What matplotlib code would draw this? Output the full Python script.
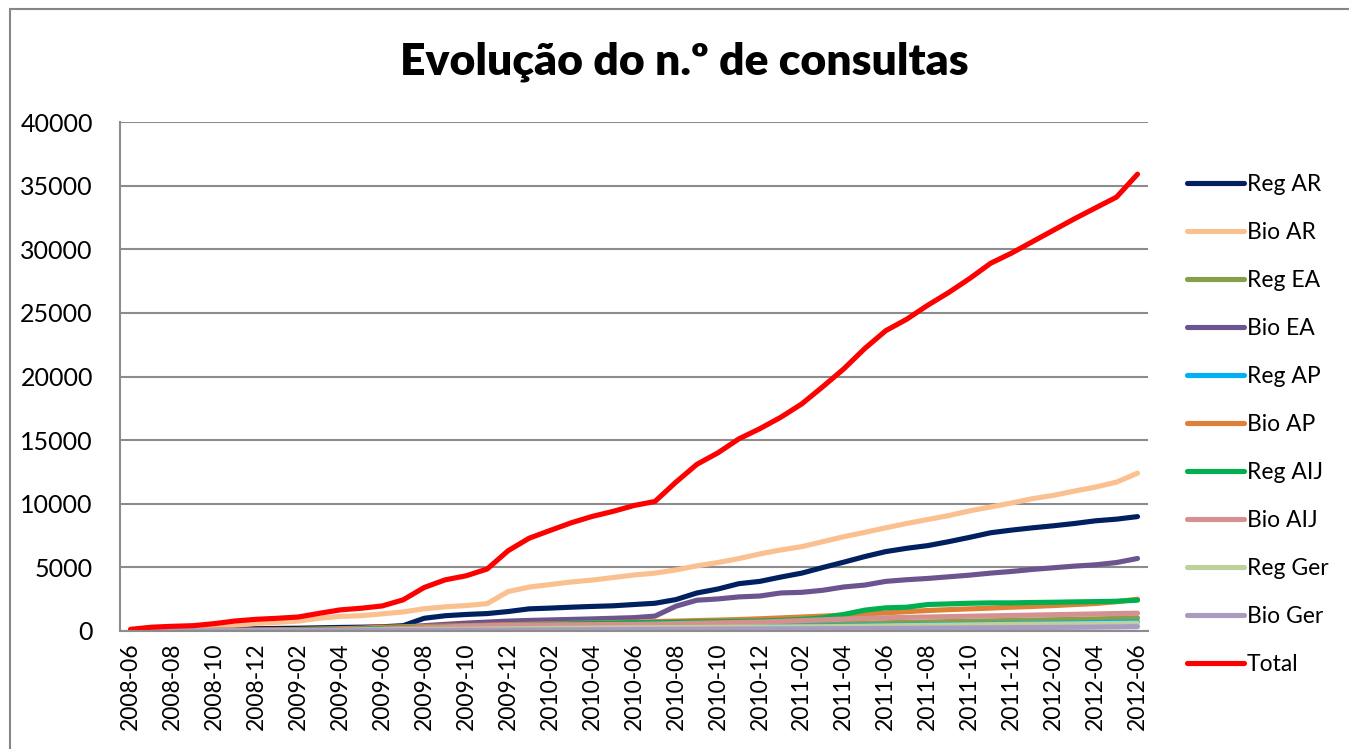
import matplotlib
matplotlib.use("Agg")
import matplotlib.pyplot as plt
import matplotlib.patches as patches

plt.rcParams['font.family'] = ['Lato', 'DejaVu Sans']

months = ['2008-06', '2008-07', '2008-08', '2008-09', '2008-10', '2008-11', '2008-12',
          '2009-01', '2009-02', '2009-03', '2009-04', '2009-05', '2009-06', '2009-07',
          '2009-08', '2009-09', '2009-10', '2009-11', '2009-12', '2010-01', '2010-02',
          '2010-03', '2010-04', '2010-05', '2010-06', '2010-07', '2010-08', '2010-09',
          '2010-10', '2010-11', '2010-12', '2011-01', '2011-02', '2011-03', '2011-04',
          '2011-05', '2011-06', '2011-07', '2011-08', '2011-09', '2011-10', '2011-11',
          '2011-12', '2012-01', '2012-02', '2012-03', '2012-04', '2012-05', '2012-06']

reg_ar = [20, 50, 80, 100, 120, 150, 180, 200, 220, 250, 280, 300, 330, 420, 1000, 1200,
          1300, 1370, 1530, 1740, 1800, 1870, 1930, 1980, 2080, 2180, 2470, 2990, 3300,
          3720, 3900, 4240, 4550, 4990, 5410, 5850, 6240, 6500, 6710, 7020, 7360, 7720,
          7930, 8110, 8270, 8450, 8660, 8790, 8990]
bio_ar = [30, 100, 150, 200, 300, 450, 600, 680, 780, 1000, 1150, 1200, 1350, 1500, 1750,
          1900, 2000, 2150, 3100, 3450, 3650, 3850, 4000, 4200, 4400, 4550, 4800, 5120,
          5380, 5690, 6060, 6370, 6630, 7020, 7410, 7750, 8110, 8450, 8760, 9070, 9440,
          9750, 10060, 10400, 10660, 11000, 11310, 11700, 12400]
reg_ea = [0, 5, 10, 15, 20, 30, 40, 50, 60, 70, 80, 90, 100, 115, 130, 145, 160, 175, 190,
          205, 215, 225, 235, 245, 260, 290, 320, 350, 380, 410, 440, 470, 500, 540, 580,
          610, 650, 680, 710, 740, 770, 800, 830, 860, 890, 920, 950, 990, 1030]
bio_ea = [10, 20, 30, 40, 50, 60, 80, 100, 120, 150, 180, 210, 250, 320, 420, 520, 620, 700,
          780, 830, 870, 910, 950, 1000, 1050, 1170, 1950, 2420, 2520, 2680, 2750, 2990,
          3040, 3200, 3460, 3610, 3900, 4030, 4130, 4260, 4390, 4550, 4680, 4840, 4970,
          5100, 5200, 5380, 5700]
reg_ap = [0, 5, 10, 15, 20, 30, 40, 50, 60, 70, 80, 90, 100, 110, 120, 140, 160, 180, 200,
          210, 220, 235, 250, 270, 300, 310, 320, 330, 340, 350, 360, 370, 380, 390, 400,
          420, 440, 460, 480, 500, 520, 540, 560, 590, 610, 630, 660, 690, 710]
bio_ap = [0, 10, 20, 30, 40, 60, 80, 100, 120, 150, 180, 220, 300, 330, 360, 390, 420, 460,
          500, 530, 560, 600, 630, 660, 700, 740, 780, 820, 860, 900, 960, 1030, 1100, 1170,
          1250, 1340, 1430, 1520, 1610, 1680, 1740, 1800, 1870, 1930, 2000, 2080, 2160,
          2300, 2500]
reg_aij = [0, 0, 0, 5, 10, 20, 30, 40, 60, 80, 100, 150, 200, 240, 280, 320, 360, 400, 450,
           480, 520, 560, 590, 620, 650, 670, 690, 710, 730, 750, 780, 840, 910, 1040, 1300,
           1640, 1820, 1870, 2080, 2130, 2180, 2210, 2210, 2240, 2260, 2290, 2310, 2340, 2420]
bio_aij = [0, 0, 0, 0, 5, 10, 15, 20, 30, 50, 80, 110, 150, 200, 260, 320, 380, 420, 450,
           470, 480, 490, 500, 510, 520, 550, 580, 610, 640, 670, 700, 760, 820, 880, 940,
           990, 1040, 1070, 1100, 1130, 1160, 1190, 1220, 1250, 1280, 1310, 1340, 1370, 1400]
reg_ger = [0, 0, 0, 5, 10, 15, 20, 25, 30, 40, 50, 65, 80, 95, 110, 125, 140, 155, 170, 185,
           200, 215, 225, 240, 250, 260, 270, 280, 290, 300, 310, 320, 330, 340, 355, 375,
           400, 420, 440, 460, 480, 500, 515, 530, 545, 560, 575, 590, 610]
bio_ger = [0, 0, 0, 0, 5, 5, 10, 10, 15, 20, 25, 30, 40, 45, 50, 55, 60, 65, 70, 80, 90, 95,
           100, 110, 120, 125, 130, 140, 150, 155, 160, 165, 170, 175, 180, 190, 200, 210,
           220, 230, 240, 250, 260, 270, 280, 290, 305, 320, 340]
total = [130, 300, 370, 420, 580, 790, 920, 1000, 1100, 1390, 1660, 1790, 1970, 2450, 3420,
         4020, 4340, 4870, 6310, 7290, 7900, 8500, 9000, 9400, 9860, 10180, 11700, 13100,
         14000, 15100, 15900, 16800, 17850, 19200, 20600, 22200, 23600, 24500, 25600, 26600,
         27700, 28900, 29700, 30600, 31500, 32400, 33250, 34100, 35900]

series = [
    ('Reg AR', reg_ar, '#002060'),
    ('Bio AR', bio_ar, '#FAC090'),
    ('Reg EA', reg_ea, '#86A04A'),
    ('Bio EA', bio_ea, '#6C5490'),
    ('Reg AP', reg_ap, '#00B0F0'),
    ('Bio AP', bio_ap, '#DE8037'),
    ('Reg AIJ', reg_aij, '#00B050'),
    ('Bio AIJ', bio_aij, '#D49190'),
    ('Reg Ger', reg_ger, '#BCD29A'),
    ('Bio Ger', bio_ger, '#A99BC2'),
    ('Total', total, '#FF0000'),
]

fig = plt.figure(figsize=(13.49, 7.49), dpi=100)
ax = fig.add_axes([120 / 1349, 118 / 749, 1028 / 1349, 509 / 749])

# chart area border (Excel style)
border = patches.Rectangle((10 / 1349, -0.1), 1.2, 1.1 - 9 / 749,
                           transform=fig.transFigure, fill=False,
                           edgecolor='#868686', linewidth=1.5)
fig.patches.append(border)

x = list(range(len(months)))
for name, vals, col in series:
    ax.plot(x, vals, color=col, linewidth=3.7, label=name,
            solid_capstyle='round', solid_joinstyle='round')

ax.set_xlim(-0.5, len(months) - 0.5)
ax.set_ylim(0, 40000)
ax.set_yticks(range(0, 40001, 5000))
ax.set_xticks(x[::2])
ax.set_xticklabels(months[::2], rotation=90, fontsize=16.5)
ax.tick_params(axis='y', labelsize=18, length=0, pad=19.5)
ax.tick_params(axis='x', length=0, pad=8)

ax.grid(axis='y', color='#8C8C8C', linewidth=1.5)
ax.set_axisbelow(True)
for s in ['top', 'right']:
    ax.spines[s].set_visible(False)
ax.spines['left'].set_color('#8C8C8C')
ax.spines['bottom'].set_color('#8C8C8C')
ax.spines['left'].set_linewidth(1.5)
ax.spines['bottom'].set_linewidth(1.5)

fig.text(684 / 1349, 1 - 62 / 749, 'Evolução do n.º de consultas',
         ha='center', va='center', fontsize=32, fontweight='heavy')

fig.legend(loc='center left', bbox_to_anchor=(1187 / 1349, 1 - 424.5 / 749),
           frameon=False, fontsize=16.5, handlelength=2.5, handletextpad=0.1,
           labelspacing=1.18, borderpad=0, borderaxespad=0)

fig.savefig('out.png', dpi=100)
